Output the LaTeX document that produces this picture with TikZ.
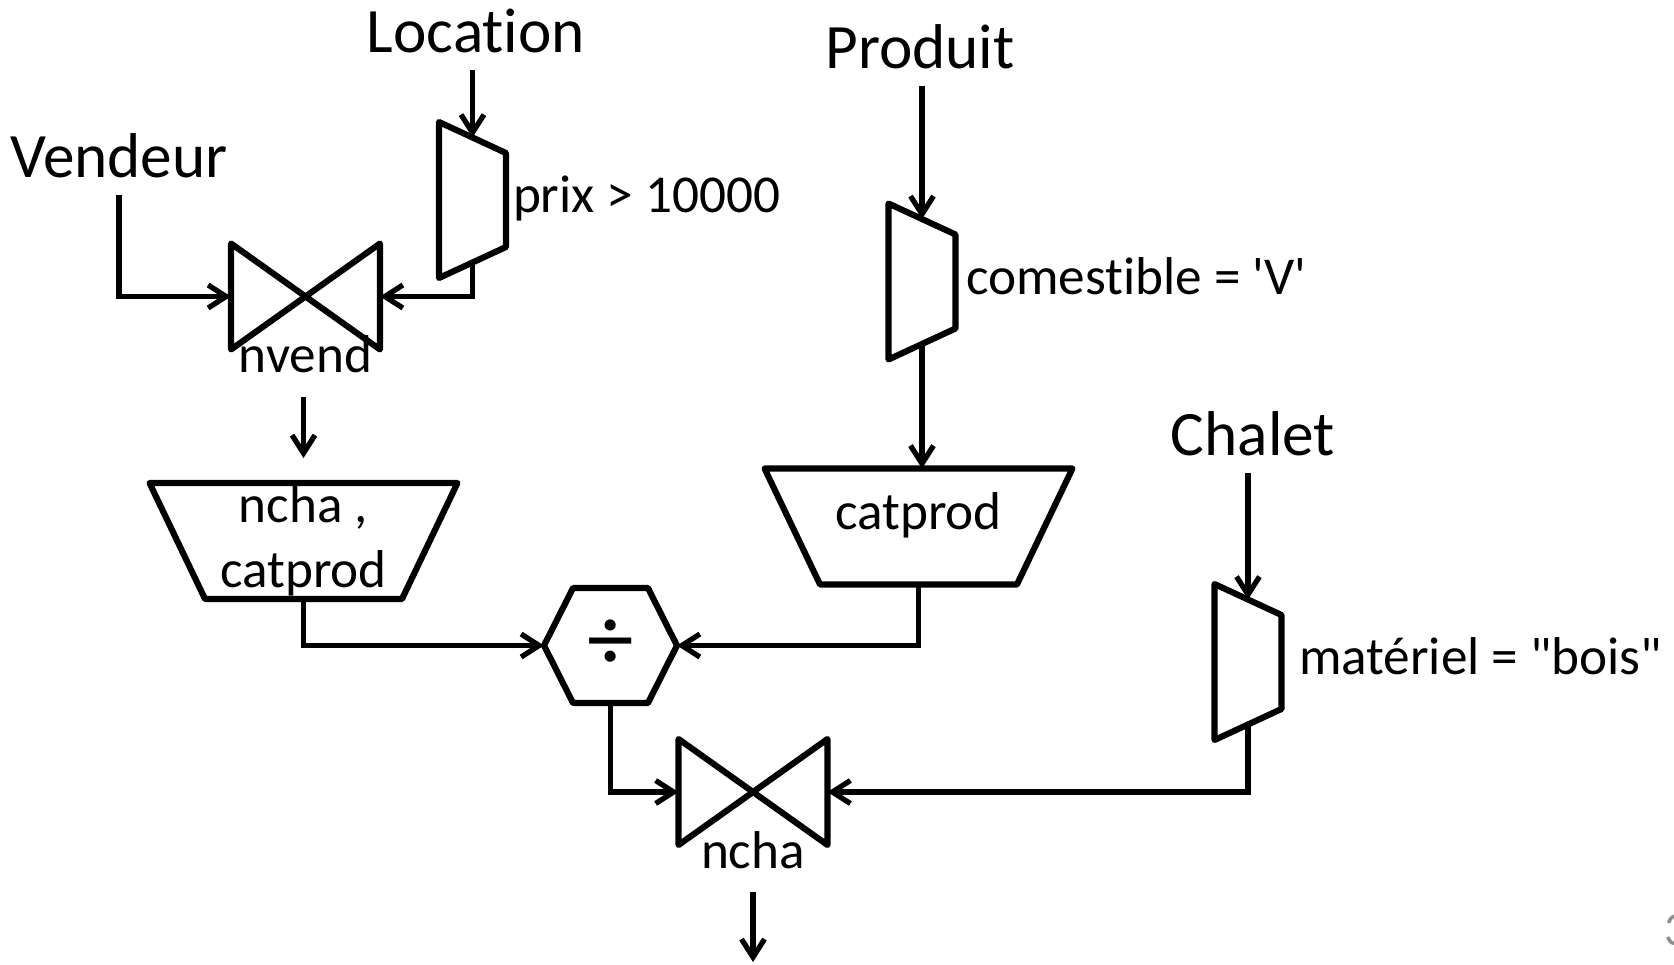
\documentclass[tikz,border=0pt]{standalone}
\usepackage{fontspec}
\setmainfont{Carlito}[Ligatures={TeXOff,CommonOff}]
\usetikzlibrary{arrows.meta, positioning, calc}

\begin{document}
\begin{tikzpicture}[
    x=0.02cm, y=-0.02cm,
    title/.style={font=\fontsize{36}{43}\selectfont, inner sep=10pt},
    lbl/.style={font=\fontsize{30.3}{36.8}\selectfont, align=center},
    cond/.style={lbl, inner sep=4pt, outer sep=0pt, text height=21pt, text depth=6.5pt},
    selbox/.style={minimum width=1.34cm, minimum height=3.12cm, inner sep=0pt, outer sep=0pt},
    joinbox/.style={minimum width=2.98cm, minimum height=2.12cm, inner sep=0pt, outer sep=0pt},
    projbox/.style={minimum width=6.16cm, minimum height=2.32cm, inner sep=0pt, outer sep=0pt},
    hexbox/.style={minimum width=2.66cm, minimum height=2.3cm, inner sep=0pt, outer sep=0pt},
    shp/.style={draw, line width=3.5pt, line join=round},
    arrow/.style={-{Straight Barb[length=3.6mm, width=4.6mm]}, line width=3pt}
]
\useasboundingbox (0,0) rectangle (1674,964);

% Relations
\node[title, anchor=base] (vendeur) at (119,177) {Vendeur};
\node[title, anchor=base] (location) at (476,52) {Location};
\node[title, anchor=base] (produit) at (920,68) {Produit};
\node[title, anchor=base] (chalet) at (1253,455) {Chalet};

% Selections and their conditions
\node[selbox] (sel1) at (472.5,200) {};
\node[selbox] (sel2) at (922,281.5) {};
\node[selbox] (sel3) at (1248,662) {};
\node[cond, right=0pt of sel1] (prix) {prix > 10000};
\node[cond, right=2pt of sel2] (comest) {comestible = \textquotesingle V\textquotesingle};
\node[cond, right=6pt of sel3] (materiel) {matériel = "bois"};

% Joins
\node[joinbox] (join1) at (305.5,296.5) {};
\node[joinbox] (join2) at (753,792) {};
\node[lbl, anchor=base] (nvend) at ($(join1.south)+(0,23)$) {nvend};
\node[lbl, anchor=base] (ncha) at ($(join2.south)+(0,23)$) {ncha};

% Projections
\node[projbox] (proj1) at (303.5,541) {};
\node[projbox] (proj2) at (918.5,526.5) {};
\node[lbl] (proj1txt) at (proj1) {ncha ,\\catprod};
\node[lbl, anchor=base] (proj2txt) at ($(proj2)+(0,2.5)$) {catprod};

% Division
\node[hexbox, font=\fontsize{53}{60}\selectfont] (div) at (610.5,645.5) {÷};

% Result
\coordinate (out) at (753,962);
\node[font=\fontsize{27}{32}\selectfont, text=black!45, anchor=base west, inner sep=0pt] (pagenum) at (1664,945) {3};

% outlines
\draw[shp] (sel1.north west) -- coordinate[pos=.5] (sel1in) ([yshift=-0.62cm]sel1.north east)
  -- ([yshift=0.62cm]sel1.south east) -- coordinate[pos=.5] (sel1out) (sel1.south west) -- cycle;
\draw[shp] (sel2.north west) -- coordinate[pos=.5] (sel2in) ([yshift=-0.62cm]sel2.north east)
  -- ([yshift=0.62cm]sel2.south east) -- coordinate[pos=.5] (sel2out) (sel2.south west) -- cycle;
\draw[shp] (sel3.north west) -- coordinate[pos=.5] (sel3in) ([yshift=-0.62cm]sel3.north east)
  -- ([yshift=0.62cm]sel3.south east) -- coordinate[pos=.5] (sel3out) (sel3.south west) -- cycle;
\draw[shp] (join1.north west) -- (join1.south east) -- (join1.north east) -- (join1.south west) -- cycle;
\draw[shp] (join2.north west) -- (join2.south east) -- (join2.north east) -- (join2.south west) -- cycle;
\draw[shp] (proj1.north west) -- (proj1.north east) -- ([xshift=-1.11cm]proj1.south east) -- ([xshift=1.11cm]proj1.south west) -- cycle;
\draw[shp] (proj2.north west) -- (proj2.north east) -- ([xshift=-1.11cm]proj2.south east) -- ([xshift=1.11cm]proj2.south west) -- cycle;
\draw[shp] (div.west) -- ([xshift=0.58cm]div.north west) -- ([xshift=-0.58cm]div.north east) -- (div.east)
  -- ([xshift=-0.58cm]div.south east) -- ([xshift=0.58cm]div.south west) -- cycle;

% arrows
\draw[arrow] (vendeur.south) |- (join1.west);
\draw[arrow] (location.south -| sel1in) -- (sel1in);
\draw[arrow] (sel1out) |- (join1.east);
\draw[arrow, shorten <=3.5mm, shorten >=5mm] (nvend.south -| proj1.north) -- (proj1.north);
\draw[arrow] (produit.south -| sel2in) -- (sel2in);
\draw[arrow] (sel2out) -- (sel2out |- proj2.north);
\draw[arrow] (proj1.south) |- (div.west);
\draw[arrow] (proj2.south) |- (div.east);
\draw[arrow] (chalet.south -| sel3in) -- (sel3in);
\draw[arrow] (div.south) |- (join2.west);
\draw[arrow] (sel3out) |- (join2.east);
\draw[arrow, shorten <=3.5mm] (ncha.south) -- (out);

\end{tikzpicture}
\end{document}
